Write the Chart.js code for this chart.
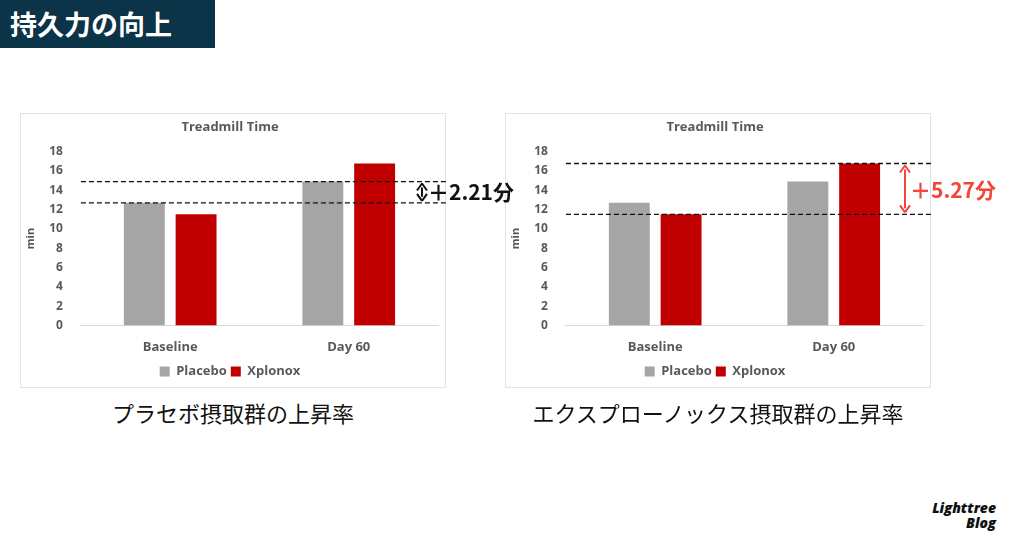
<!DOCTYPE html>
<html><head><meta charset="utf-8">
<script src="https://cdn.jsdelivr.net/npm/chart.js@4/dist/chart.umd.min.js"></script>
<style>
body{margin:0;width:1024px;height:538px;background:#fff;position:relative;overflow:hidden;font-family:"Noto Sans CJK JP","Noto Sans",sans-serif}
.hdr{position:absolute;left:0;top:0;width:215px;height:48px;background:#0b3448;color:#fff;font-size:27px;font-weight:bold;line-height:48px;padding-left:10px;box-sizing:border-box}
.box{position:absolute;top:113px;width:426px;height:275px;border:1px solid #e4e4e4;box-sizing:border-box}
.cv{position:absolute;top:113px;height:275px}
.cap{position:absolute;top:396px;font-size:22px;color:#111;text-align:center}
.ann{position:absolute;font-size:21px;font-weight:bold;font-family:"Noto Sans CJK JP",sans-serif}
.logo{position:absolute;right:28px;bottom:8px;font-family:"Open Sans",sans-serif;font-weight:800;font-style:italic;font-size:14px;line-height:15px;text-align:right;color:#111}
</style></head><body>
<div class="hdr">持久力の向上</div>
<div class="box" style="left:20px"></div>
<div class="box" style="left:505px"></div>
<div class="cv" style="left:20px;width:500px"><canvas id="c1" width="500" height="275"></canvas></div>
<div class="cv" style="left:505px;width:500px"><canvas id="c2" width="500" height="275"></canvas></div>
<div class="ann" style="left:428px;top:176px;color:#111">＋2.21分</div>
<div class="ann" style="left:910px;top:174px;color:#f2463a">＋5.27分</div>
<div class="cap" style="left:20px;width:426px">プラセボ摂取群の上昇率</div>
<div class="cap" style="left:505px;width:426px">エクスプローノックス摂取群の上昇率</div>
<div class="logo">Lighttree<br>Blog</div>
<script>
const categories=["Baseline","Day 60"];
const placebo=[12.69,14.90];
const xplonox=[11.50,16.77];
const yTicks=[0,2,4,6,8,10,12,14,16,18];
const F='"Open Sans",sans-serif';
function refPlugin(vals,color,arrowX){
 return {id:'ref',afterDatasetsDraw(ch){
  const c=ch.ctx,y=ch.scales.y,l=ch.chartArea.left;
  c.save();c.strokeStyle='#111';c.lineWidth=1.3;c.setLineDash([5,3]);
  vals.forEach(v=>{const py=y.getPixelForValue(v);c.beginPath();c.moveTo(l,py);c.lineTo(428,py);c.stroke();});
  c.setLineDash([]);c.strokeStyle=color;c.fillStyle=color;c.lineWidth=2;
  const a=y.getPixelForValue(vals[0]),b=y.getPixelForValue(vals[1]);
  const t=Math.min(a,b)+2,bo=Math.max(a,b)-2;
  c.beginPath();c.moveTo(arrowX,t+4);c.lineTo(arrowX,bo-4);c.stroke();
  [[t,1],[bo,-1]].forEach(([p,d])=>{c.beginPath();c.moveTo(arrowX,p);c.lineTo(arrowX-5,p+7*d);c.moveTo(arrowX,p);c.lineTo(arrowX+5,p+7*d);c.stroke();});
  c.restore();}};
}
function make(id,vals,color,ax){
 new Chart(document.getElementById(id),{type:'bar',
  data:{labels:categories,datasets:[
   {label:'Placebo',data:placebo,backgroundColor:'#a5a5a5'},
   {label:'Xplonox',data:xplonox,backgroundColor:'#c00000'}]},
  options:{responsive:false,animation:false,
   layout:{padding:{left:2,right:82,top:4,bottom:0}},
   datasets:{bar:{barPercentage:0.79,categoryPercentage:0.58}},
   plugins:{title:{display:true,text:'Treadmill Time',color:'#595959',font:{family:F,size:13,weight:'bold'},padding:{top:2,bottom:17}},
    legend:{position:'bottom',labels:{boxWidth:10,boxHeight:10,color:'#595959',font:{family:F,size:13,weight:'bold'},padding:4}},
    tooltip:{enabled:false}},
   scales:{
    x:{grid:{display:false},border:{color:'#d9d9d9'},ticks:{color:'#595959',font:{family:F,size:13,weight:'bold'},padding:6}},
    y:{min:0,max:18,afterBuildTicks:s=>{s.ticks=yTicks.map(v=>({value:v}));},grid:{display:false},border:{display:false},
     ticks:{color:'#595959',font:{family:F,size:12,weight:'bold'},padding:10},
     title:{display:true,text:'min',color:'#595959',font:{family:F,size:11,weight:'bold'},padding:2}}}},
  plugins:[refPlugin(vals,color,ax)]});
}
make('c1',[placebo[1],placebo[0]],'#111',402);
make('c2',[xplonox[1],xplonox[0]],'#f2463a',400);
</script></body></html>
